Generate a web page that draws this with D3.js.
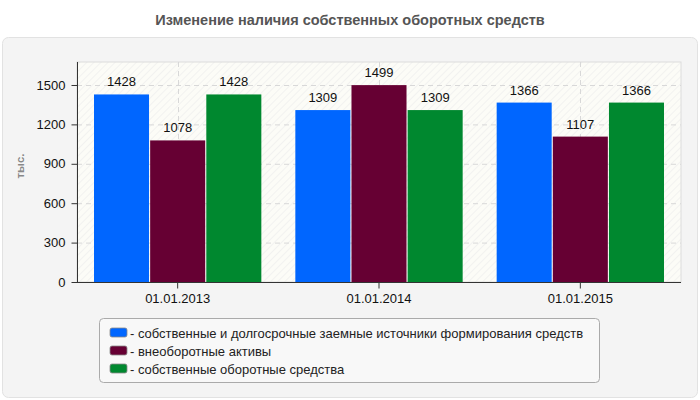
<!DOCTYPE html>
<html>
<head>
<meta charset="utf-8">
<script src="https://cdn.jsdelivr.net/npm/d3@7"></script>
<style>
  body { margin: 0; background: #fff; }
  svg text { font-family: "Liberation Sans", Arial, sans-serif; }
</style>
</head>
<body>
<svg></svg>
<script>
// data
let categories = ['01.01.2013', '01.01.2014', '01.01.2015']
let seriesNames = [
    'собственные и долгосрочные заемные источники формирования средств',
    'внеоборотные активы',
    'собственные оборотные средства'
]
let ownAndLongTerm = [1428, 1309, 1366]
let nonCurrent = [1078, 1499, 1107]
let ownCurrent = [1428, 1309, 1366]
let yTicks = [0, 300, 600, 900, 1200, 1500]
let colors = ['#0066ff', '#660033', '#00882f']

let width = 700
let height = 400
let plotLeft = 77
let plotRight = 681
let plotTop = 62
let plotBottom = 282

let svg = d3.select('svg').attr('width', width).attr('height', height)

// hatch pattern for the plot background
let defs = svg.append('defs')
let pat = defs.append('pattern')
    .attr('id', 'hatch')
    .attr('patternUnits', 'userSpaceOnUse')
    .attr('width', 5).attr('height', 5)
    .attr('patternTransform', 'rotate(45)')
pat.append('rect').attr('width', 5).attr('height', 5).attr('fill', '#fcfcf7')
pat.append('line').attr('x1', 0).attr('y1', 0).attr('x2', 0).attr('y2', 5)
    .attr('stroke', '#ececec').attr('stroke-width', 1.2)

// title
svg.append('text')
    .attr('x', 350).attr('y', 25)
    .attr('text-anchor', 'middle')
    .attr('font-size', 14.5).attr('font-weight', 'bold')
    .attr('fill', '#555')
    .text('Изменение наличия собственных оборотных средств')

// panel
svg.append('rect')
    .attr('x', 2.5).attr('y', 37.5).attr('width', 695).attr('height', 360)
    .attr('rx', 6).attr('fill', '#f4f4f4').attr('stroke', '#e2e2e2')

// scales
let xScale = d3.scaleBand().domain(categories).range([plotLeft, plotRight])
let inner = d3.scaleBand().domain(d3.range(seriesNames.length))
    .range([17, xScale.bandwidth() - 17]).paddingInner(0.02)
let yScale = d3.scaleLinear().domain([0, 1675]).range([plotBottom, plotTop])

// plot area
svg.append('rect')
    .attr('x', plotLeft).attr('y', plotTop)
    .attr('width', plotRight - plotLeft).attr('height', plotBottom - plotTop)
    .attr('fill', 'url(#hatch)').attr('stroke', '#dcdcdc')

// grid
svg.append('g').selectAll('line').data(yTicks.slice(1)).enter().append('line')
    .attr('x1', plotLeft).attr('x2', plotRight)
    .attr('y1', d => yScale(d) + 0.5).attr('y2', d => yScale(d) + 0.5)
    .attr('stroke', '#d8d8d8').attr('stroke-dasharray', '5,4')
svg.append('g').selectAll('line').data(categories).enter().append('line')
    .attr('x1', d => Math.round(xScale(d) + xScale.bandwidth() / 2) + 0.5)
    .attr('x2', d => Math.round(xScale(d) + xScale.bandwidth() / 2) + 0.5)
    .attr('y1', plotTop).attr('y2', plotBottom)
    .attr('stroke', '#d8d8d8').attr('stroke-dasharray', '5,4')

// bars
let series = [ownAndLongTerm, nonCurrent, ownCurrent]
let rows = []
series.forEach((vals, s) => {
    vals.forEach((v, i) => {
        rows.push({ s: s, cat: categories[i], value: v })
    })
})

svg.append('g').selectAll('rect').data(rows).enter().append('rect')
    .attr('x', d => xScale(d.cat) + inner(d.s))
    .attr('width', inner.bandwidth())
    .attr('y', d => yScale(d.value))
    .attr('height', d => plotBottom - yScale(d.value))
    .attr('fill', d => colors[d.s])

svg.append('g').selectAll('text').data(rows).enter().append('text')
    .attr('x', d => xScale(d.cat) + inner(d.s) + inner.bandwidth() / 2)
    .attr('y', d => yScale(d.value) - 8)
    .attr('text-anchor', 'middle')
    .attr('font-size', 13).attr('fill', '#111')
    .text(d => d.value)

// axes
let yAxis = d3.axisLeft(yScale).tickValues(yTicks).tickFormat(d3.format('d'))
    .tickSize(6).tickPadding(6)
let yg = svg.append('g').attr('transform', 'translate(' + (plotLeft + 0.5) + ',0)').call(yAxis)
yg.attr('font-family', null)
yg.selectAll('text').attr('font-size', 13).attr('fill', '#111')
yg.selectAll('line, path').attr('stroke', '#333')
yg.select('.domain').attr('d', 'M0,' + plotTop + 'V' + plotBottom)

let xAxis = d3.axisBottom(xScale).tickSize(6).tickPadding(5)
let xg = svg.append('g').attr('transform', 'translate(0,' + (plotBottom + 0.5) + ')').call(xAxis)
xg.attr('font-family', null)
xg.selectAll('text').attr('font-size', 13).attr('fill', '#111')
xg.selectAll('line, path').attr('stroke', '#333')
xg.select('.domain').attr('d', 'M' + plotLeft + ',0H' + plotRight)

// y label
svg.append('text')
    .attr('transform', 'translate(24,166) rotate(-90)')
    .attr('text-anchor', 'middle')
    .attr('font-size', 11.5).attr('font-weight', 'bold').attr('fill', '#888')
    .text('тыс.')

// legend
let legend = svg.append('g')
legend.append('rect')
    .attr('x', 99.5).attr('y', 318.5).attr('width', 500).attr('height', 64)
    .attr('rx', 4).attr('fill', '#f8f8f8').attr('stroke', '#aaa')
let items = legend.selectAll('g.item').data(seriesNames).enter().append('g')
    .attr('class', 'item')
    .attr('transform', (d, i) => 'translate(110,' + (328 + i * 18) + ')')
items.append('rect')
    .attr('x', 0).attr('y', 0).attr('width', 17).attr('height', 9).attr('rx', 2)
    .attr('fill', (d, i) => colors[i]).attr('stroke', '#888').attr('stroke-width', 0.8)
items.append('text')
    .attr('x', 20).attr('y', 9.5)
    .attr('font-size', 13).attr('fill', '#222')
    .text(d => '- ' + d)
</script>
</body>
</html>
